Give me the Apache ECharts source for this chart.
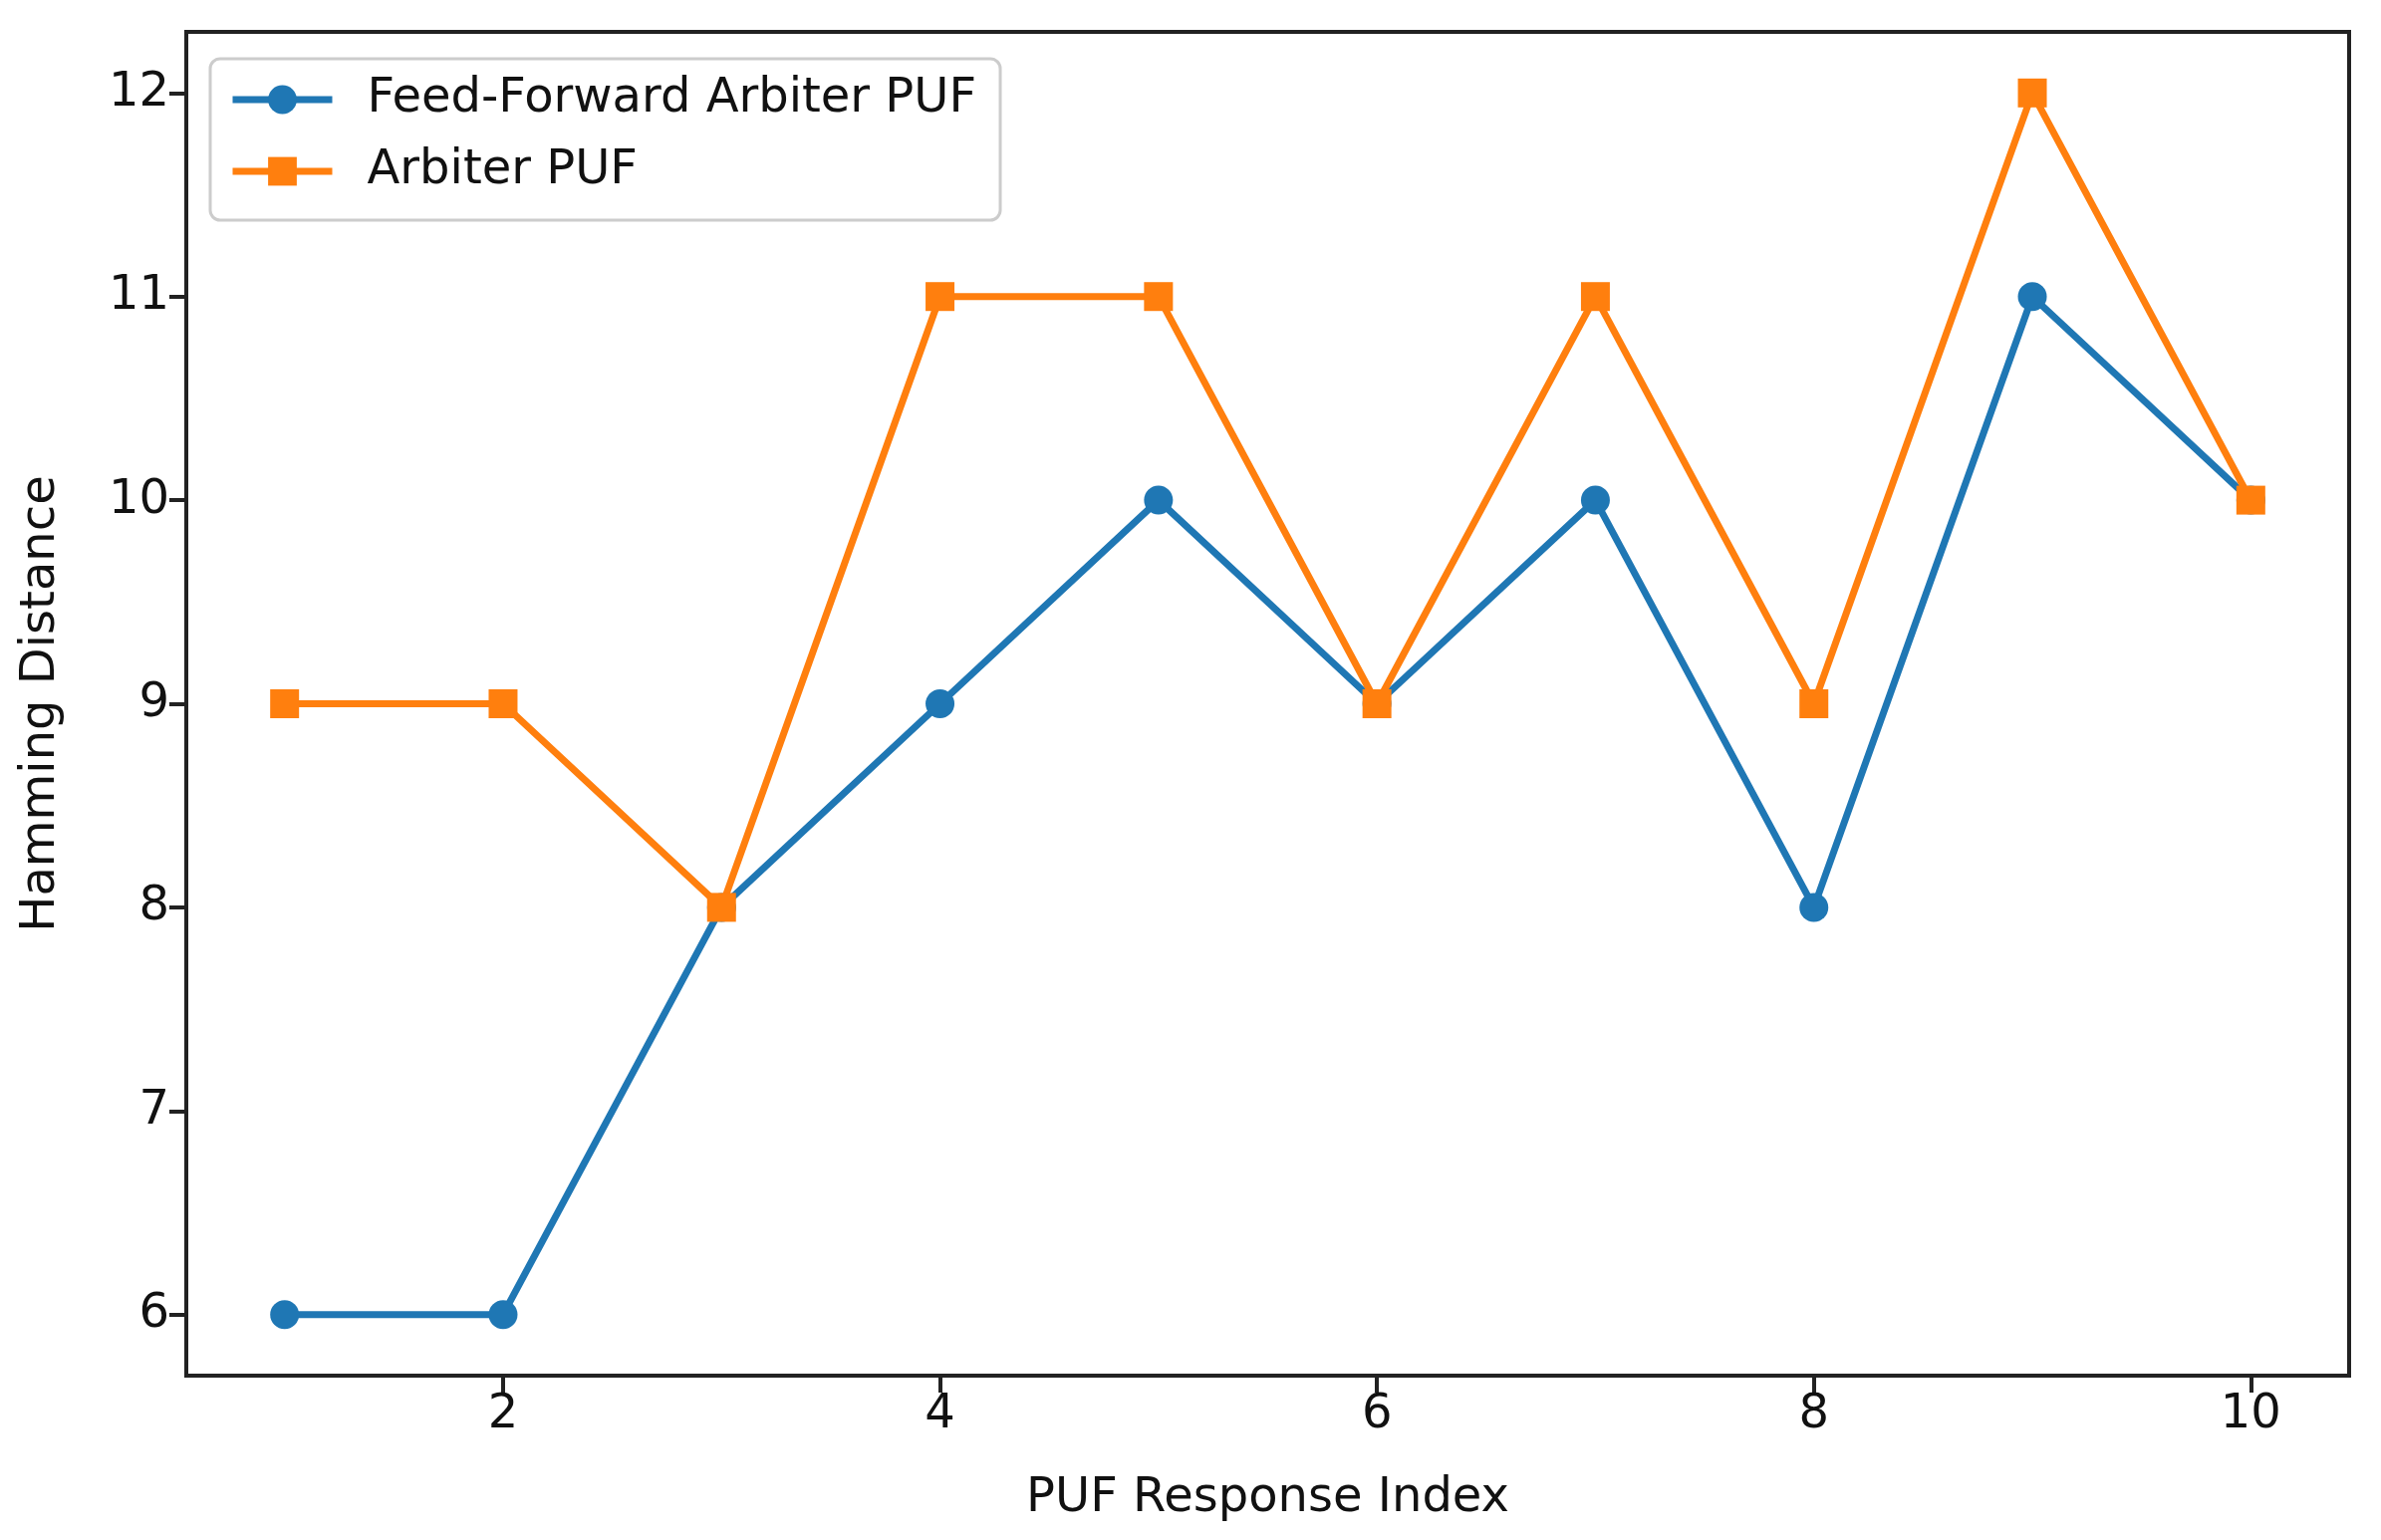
<!DOCTYPE html>
<html>
<head>
<meta charset="utf-8">
<script src="https://cdn.jsdelivr.net/npm/echarts@6/dist/echarts.min.js"></script>
<style>
html,body{margin:0;padding:0;background:#fff;}
#chart{width:2390px;height:1546px;}
</style>
</head>
<body>
<div id="chart"></div>
<script>
const responseIndex = [1, 2, 3, 4, 5, 6, 7, 8, 9, 10];
const feedForwardPUF = [6, 6, 8, 9, 10, 9, 10, 8, 11, 10];
const arbiterPUF = [9, 9, 8, 11, 11, 9, 11, 9, 12, 10];
const xTicks = [2, 4, 6, 8, 10];
const yTicks = [6, 7, 8, 9, 10, 11, 12];
const seriesNames = ['Feed-Forward Arbiter PUF', 'Arbiter PUF'];

const FONT = 'DejaVu Sans';
const chart = echarts.init(document.getElementById('chart'));
const pair = (xs, ys) => xs.map((x, i) => [x, ys[i]]);

chart.setOption({
  animation: false,
  backgroundColor: '#ffffff',
  grid: {
    left: 187, top: 32, right: 32, bottom: 165,
    show: true, borderColor: '#222', borderWidth: 4, backgroundColor: 'transparent'
  },
  legend: {
    orient: 'vertical',
    left: 211, top: 59,
    data: seriesNames,
    itemWidth: 100, itemHeight: 36, itemGap: 16,
    padding: [13, 24, 21, 19],
    lineStyle: { width: 7 },
    backgroundColor: 'rgba(255,255,255,0.8)',
    borderColor: '#cccccc', borderWidth: 3, borderRadius: 10,
    textStyle: { fontFamily: FONT, fontSize: 48, color: '#111', lineHeight: 56, padding: [0, 0, 0, 30] }
  },
  xAxis: {
    type: 'value', min: 0.55, max: 10.45,
    name: 'PUF Response Index', nameLocation: 'middle', nameGap: 100,
    nameTextStyle: { fontFamily: FONT, fontSize: 48, color: '#111' },
    splitLine: { show: false },
    axisLine: { show: true, lineStyle: { color: '#222', width: 4 } },
    axisTick: { show: true, inside: false, length: 17, lineStyle: { color: '#222', width: 4 }, customValues: xTicks },
    axisLabel: { fontFamily: FONT, fontSize: 48, color: '#111', margin: 16, customValues: xTicks }
  },
  yAxis: {
    type: 'value', min: 5.7, max: 12.3,
    name: 'Hamming Distance', nameLocation: 'middle', nameGap: 121, nameRotate: 90,
    nameTextStyle: { fontFamily: FONT, fontSize: 48, color: '#111' },
    splitLine: { show: false },
    axisLine: { show: true, lineStyle: { color: '#222', width: 4 } },
    axisTick: { show: true, inside: false, length: 17, lineStyle: { color: '#222', width: 4 }, customValues: yTicks },
    axisLabel: { fontFamily: FONT, fontSize: 48, color: '#111', margin: 17, customValues: yTicks }
  },
  series: [
    {
      name: seriesNames[0], type: 'line', data: pair(responseIndex, feedForwardPUF),
      symbol: 'circle', symbolSize: 29, showAllSymbol: true,
      lineStyle: { color: '#1f77b4', width: 7 },
      itemStyle: { color: '#1f77b4' }, z: 2
    },
    {
      name: seriesNames[1], type: 'line', data: pair(responseIndex, arbiterPUF),
      symbol: 'rect', symbolSize: 29, showAllSymbol: true,
      lineStyle: { color: '#ff7f0e', width: 7 },
      itemStyle: { color: '#ff7f0e' }, z: 3
    }
  ]
});
</script>
</body>
</html>
